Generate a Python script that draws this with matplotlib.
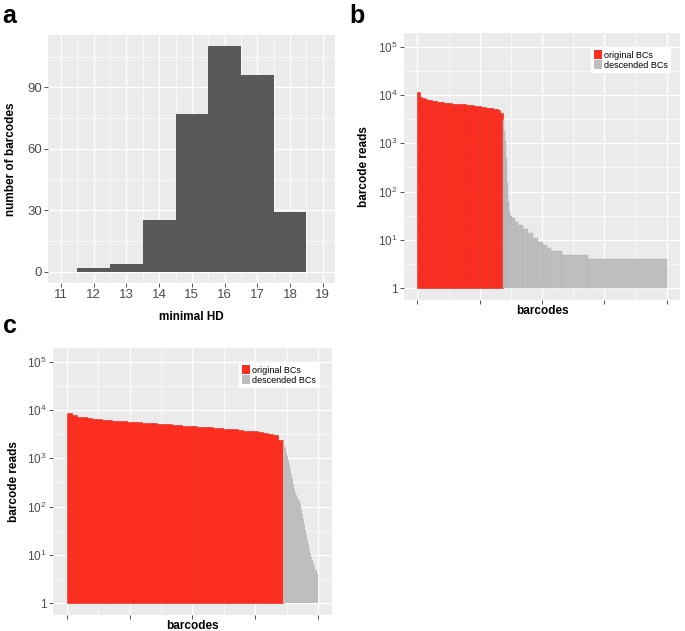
import numpy as np
import matplotlib
matplotlib.use("Agg")
import matplotlib.pyplot as plt
from matplotlib.patches import Patch
from matplotlib.ticker import FixedLocator, NullFormatter

plt.rcParams['font.family'] = ['Liberation Sans', 'DejaVu Sans']
plt.rcParams['mathtext.fontset'] = 'custom'
plt.rcParams['mathtext.rm'] = 'Liberation Sans'

# panel a: histogram of minimal Hamming distance
hd_bins = [11.5, 12.5, 13.5, 14.5, 15.5, 16.5, 17.5, 18.5]
hd_counts = [2, 4, 25, 77, 110, 96, 29]

# panel b: ranked barcode reads (rank edges on a 0-1000 axis)
b_red_reads = [11500, 9200, 8700, 8300, 8000, 7800, 7600, 7400, 7250, 7100,
               7000, 6900, 6800, 6700, 6650, 6600, 6500, 6450, 6400, 6350,
               6300, 6200, 6100, 6000, 5900, 5800, 5700, 5600, 5500, 5400,
               5300, 5200, 5100, 4900, 4300]
b_red_end = 343
b_gray_starts = [343, 347, 351, 355, 359, 363, 367, 372, 380, 390, 405, 425,
                 445, 465, 485, 505, 520, 535, 580, 683]
b_gray_reads = [3000, 1800, 1100, 500, 150, 60, 38, 31, 27, 23, 19, 16,
                13, 10, 8, 7, 6, 5, 4, 3]
b_end = 1000

# panel c
c_red_reads = [8500, 7700, 7300, 7000, 6750, 6550, 6400, 6250, 6150, 6050,
               5950, 5850, 5750, 5650, 5550, 5450, 5350, 5300, 5200, 5150,
               5050, 4950, 4850, 4750, 4650, 4600, 4500, 4450, 4350, 4250,
               4200, 4100, 4000, 3950, 3850, 3750, 3700, 3600, 3500, 3400,
               3250, 3050, 2400]
c_red_end = 860
c_gray_reads = [2300, 1900, 1600, 1300, 1100, 900, 750, 600, 480, 380,
                300, 230, 190, 170, 150, 140, 130, 110, 90, 70,
                55, 42, 32, 25, 20, 16, 12, 10, 8, 7,
                6, 5, 4, 4, 3]
c_end = 1000

RED = '#FF2D1E'
GRAY = '#BEBEBE'
BG = '#EBEBEB'
TICKC = '#4D4D4D'


def style_axes(ax, labelsize):
    ax.set_facecolor(BG)
    for s in ax.spines.values():
        s.set_visible(False)
    ax.set_axisbelow(True)
    ax.grid(which='major', color='white', linewidth=1.0)
    ax.grid(which='minor', color='white', linewidth=0.5)
    ax.tick_params(which='major', length=3, width=0.6, color='#333333',
                   labelcolor=TICKC, labelsize=labelsize, pad=1.5)
    ax.tick_params(which='minor', length=0)


def reads_panel(ax, red_reads, red_end, gray_left, gray_reads, gray_end, gray_edge):
    red_edges = np.linspace(0, red_end, len(red_reads) + 1)
    ax.bar(red_edges[:-1], red_reads, width=np.diff(red_edges), align='edge',
           bottom=1, color=RED, edgecolor='#E4271A', linewidth=0.4)
    gl = np.array(gray_left, dtype=float)
    gw = np.diff(np.append(gl, gray_end))
    ax.bar(gl, gray_reads, width=gw, align='edge', bottom=1, color=GRAY,
           edgecolor='#B4B4B4' if gray_edge else GRAY,
           linewidth=0.3 if gray_edge else 0)
    ax.set_yscale('log')
    ax.set_ylim(10 ** -0.24, 10 ** 5.28)
    ax.set_xlim(-54, 1054)
    ax.yaxis.set_major_locator(FixedLocator([1, 10, 100, 1e3, 1e4, 1e5]))
    ax.set_yticklabels(['1', r'$10^{1}$', r'$10^{2}$', r'$10^{3}$',
                        r'$10^{4}$', r'$10^{5}$'])
    ax.yaxis.set_minor_locator(FixedLocator([10 ** (k + 0.5) for k in range(5)]))
    ax.yaxis.set_minor_formatter(NullFormatter())
    ax.xaxis.set_major_locator(FixedLocator([0, 250, 500, 750, 1000]))
    ax.xaxis.set_minor_locator(FixedLocator([125, 375, 625, 875]))
    ax.set_xticklabels([])
    style_axes(ax, 8.5)
    ax.set_xlabel('barcodes', fontsize=8.5, fontweight='bold')
    ax.set_ylabel('barcode reads', fontsize=8.5, fontweight='bold')
    handles = [Patch(facecolor=RED, edgecolor='none', label='original BCs'),
               Patch(facecolor=GRAY, edgecolor='none', label='descended BCs')]
    return handles


fig = plt.figure(figsize=(6.85, 6.31), dpi=100)

# panel a
ax_a = fig.add_axes([0.0701, 0.5515, 0.419, 0.393])
ax_a.bar(hd_bins[:-1], hd_counts, width=np.diff(hd_bins), align='edge',
         color='#595959', linewidth=0)
ax_a.set_xlim(10.6, 19.38)
ax_a.set_ylim(-5.5, 115.5)
ax_a.xaxis.set_major_locator(FixedLocator(range(11, 20)))
ax_a.xaxis.set_minor_locator(FixedLocator(np.arange(11.5, 19, 1)))
ax_a.yaxis.set_major_locator(FixedLocator([0, 30, 60, 90]))
ax_a.yaxis.set_minor_locator(FixedLocator([15, 45, 75, 105]))
style_axes(ax_a, 9.5)
ax_a.set_xlabel('minimal HD', fontsize=8.5, fontweight='bold')
ax_a.set_ylabel('number of barcodes', fontsize=8.5, fontweight='bold')
ax_a.xaxis.set_label_coords(0.5, -0.113)
ax_a.yaxis.set_label_coords(-0.108, 0.5)

# panel b
ax_b = fig.add_axes([0.5898, 0.5246, 0.403, 0.423])
h = reads_panel(ax_b, b_red_reads, b_red_end, b_gray_starts, b_gray_reads, b_end, True)
ax_b.xaxis.set_label_coords(0.5, -0.019)
ax_b.yaxis.set_label_coords(-0.123, 0.5)
ax_b.legend(handles=h, loc='upper right', bbox_to_anchor=(0.964, 0.948),
            fontsize=6.5, frameon=True, fancybox=False, framealpha=1,
            edgecolor='white', handlelength=0.9, handleheight=1.3,
            handletextpad=0.2, labelspacing=0.0, borderpad=0.3,
            borderaxespad=0)

# panel c
ax_c = fig.add_axes([0.0774, 0.0254, 0.407, 0.423])
c_gray_starts = list(range(c_red_end, c_end, 4))
h = reads_panel(ax_c, c_red_reads, c_red_end, c_gray_starts, c_gray_reads, c_end, False)
ax_c.xaxis.set_label_coords(0.5, -0.019)
ax_c.yaxis.set_label_coords(-0.118, 0.5)
ax_c.legend(handles=h, loc='upper right', bbox_to_anchor=(0.953, 0.948),
            fontsize=6.5, frameon=True, fancybox=False, framealpha=1,
            edgecolor='white', handlelength=0.9, handleheight=1.3,
            handletextpad=0.2, labelspacing=0.0, borderpad=0.3,
            borderaxespad=0)

# panel letters
fig.text(0.004, 1 - 23 / 631, 'a', fontsize=18, fontweight='bold', va='baseline')
fig.text(0.510, 1 - 23 / 631, 'b', fontsize=18, fontweight='bold', va='baseline')
fig.text(0.004, 1 - 333 / 631, 'c', fontsize=18, fontweight='bold', va='baseline')

fig.savefig('out.png', dpi=100)
